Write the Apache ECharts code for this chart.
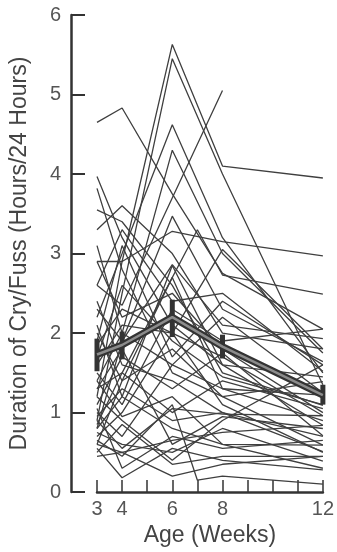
<!DOCTYPE html>
<html><head><meta charset="utf-8">
<script src="https://cdn.jsdelivr.net/npm/echarts@6/dist/echarts.min.js"></script>
<style>html,body{margin:0;padding:0;background:#fff}#c{width:337px;height:552px}</style>
</head><body><div id="c"></div>
<script>
// Tick labels
const xTickLabels = [3, 4, 6, 8, 12];
const yTickLabels = [0, 1, 2, 3, 4, 5, 6];
// Individual infants: [week, hours/24h]
const infants = [
  [[3,4.65],[4,4.83],[6,3.75],[8,2.75],[12,2.05]],
  [[3,1.2],[4,2.9],[6,5.63],[8,4.1],[12,3.95]],
  [[3,0.9],[4,2.5],[6,5.45],[8,4.0],[12,1.35]],
  [[3,2.2],[4,3.0],[6,4.62],[8,3.2],[12,1.5]],
  [[3,2.6],[4,2.35],[8,5.05]],
  [[3,1.4],[4,2.0],[6,4.3],[8,3.0],[12,1.75]],
  [[3,2.9],[4,2.9],[6,3.28],[8,3.15],[12,2.97]],
  [[3,1.3],[4,1.5],[7,3.3],[8,2.73],[12,2.49]],
  [[3,0.8],[4,1.9],[6,3.47],[8,2.3],[12,1.64]],
  [[3,2.3],[4,1.9],[6,2.86],[8,2.1],[12,1.93]],
  [[3,3.97],[4,3.2],[6,2.1],[8,1.6],[12,0.84]],
  [[3,3.82],[4,2.8],[6,1.5],[8,1.2],[12,0.59]],
  [[3,3.55],[4,3.4],[6,2.6],[8,1.5],[12,1.09]],
  [[3,3.3],[4,3.6],[6,3.0],[8,2.0],[12,1.8]],
  [[3,2.6],[4,3.3],[6,2.4],[8,2.5],[12,1.52]],
  [[3,2.0],[4,1.4],[6,1.8],[8,1.2],[12,1.39]],
  [[3,1.85],[4,2.3],[6,2.0],[8,1.7],[12,0.96]],
  [[3,1.5],[4,1.1],[6,2.3],[8,1.9],[12,2.05]],
  [[3,1.1],[4,1.7],[6,1.3],[8,1.75],[12,0.71]],
  [[3,1.0],[4,0.7],[6,1.6],[8,1.3],[12,1.22]],
  [[3,0.95],[4,1.3],[6,0.9],[8,1.0],[12,0.51]],
  [[3,0.9],[4,0.55],[6,1.05],[8,0.98],[12,0.96]],
  [[3,0.75],[4,0.6],[6,0.5],[8,0.8],[12,0.39]],
  [[3,0.6],[4,0.5],[6,0.65],[8,0.75],[12,0.84]],
  [[3,0.55],[4,0.18],[6,0.55],[8,0.4],[12,0.28]],
  [[3,0.45],[4,0.5],[6,0.2],[8,0.35],[12,0.45]],
  [[3,0.65],[4,0.45],[6,1.1],[7,0.15],[8,0.2],[12,0.1]],
  [[3,1.2],[4,0.9],[6,0.4],[8,0.9],[12,1.6]],
  [[3,0.8],[4,1.2],[6,0.8],[8,0.6],[12,0.59]],
  [[3,1.4],[4,0.95],[6,1.2],[8,0.6],[12,0.3]],
  [[3,2.4],[4,1.6],[6,1.4],[8,1.0],[12,0.7]],
  [[3,1.7],[4,2.6],[6,1.9],[8,1.45],[12,1.1]],
  [[3,0.7],[4,1.0],[6,2.0],[8,1.1],[12,0.5]],
  [[3,2.9],[4,2.2],[6,2.5],[8,1.8],[12,1.0]],
  [[3,3.1],[4,2.0],[6,1.6],[8,2.2],[12,1.25]],
  [[3,1.6],[4,2.1],[6,2.0],[8,3.05],[12,1.8]],
  [[3,0.5],[4,0.85],[6,0.35],[8,0.45],[12,0.45]],
  [[3,1.05],[4,0.3],[6,0.7],[8,0.55],[12,0.65]],
  [[3,0.85],[4,1.5],[6,1.0],[8,1.4],[12,1.05]],
  [[3,1.3],[4,1.8],[6,0.6],[8,0.95],[12,0.8]],
  [[3,2.1],[4,1.2],[6,2.85],[8,1.6],[12,1.45]],
  [[3,1.9],[4,3.1],[6,1.7],[8,2.4],[12,1.6]],
  [[3,0.6],[4,1.4],[6,2.7],[8,1.3],[12,0.9]]
];
// Group mean with error bars
const meanWeeks = [3, 4, 6, 8, 12];
const meanValues = [1.73, 1.85, 2.2, 1.83, 1.22];
const meanLow = [1.52, 1.67, 1.95, 1.68, 1.1];
const meanHigh = [1.93, 2.02, 2.42, 1.98, 1.35];

const chart = echarts.init(document.getElementById('c'), null, {renderer: 'canvas'});
const series = infants.map(d => ({
  type: 'line', data: d, symbol: 'none', silent: true,
  lineStyle: {color: '#3f3f3f', width: 1.3}
}));
const meanData = meanWeeks.map((w, i) => [w, meanValues[i]]);
series.push({
  type: 'custom', silent: true, z: 5,
  data: meanWeeks.map((w, i) => [w, meanLow[i], meanHigh[i]]),
  renderItem: (params, api) => {
    const a = api.coord([api.value(0), api.value(1)]);
    const b = api.coord([api.value(0), api.value(2)]);
    return {type: 'line', shape: {x1: a[0], y1: a[1], x2: b[0], y2: b[1]},
      style: {stroke: '#333', lineWidth: 5}};
  }
});
series.push({type: 'line', data: meanData, symbol: 'none', z: 6, silent: true,
  lineStyle: {color: '#333', width: 7}});
series.push({type: 'line', data: meanData, symbol: 'none', z: 7, silent: true,
  lineStyle: {color: '#8c8c8c', width: 2.5}});

chart.setOption({
  animation: false,
  backgroundColor: '#ffffff',
  grid: {left: 97, right: 6, top: 15, bottom: 58},
  xAxis: {
    type: 'value', min: 3, max: 12, interval: 1,
    name: 'Age (Weeks)', nameLocation: 'middle', nameGap: 31,
    nameTextStyle: {fontFamily: 'Liberation Sans', fontSize: 23, color: '#444'},
    axisLine: {lineStyle: {color: '#333', width: 2.5}},
    axisTick: {inside: true, length: 12, lineStyle: {color: '#333', width: 1.5}},
    axisLabel: {margin: 7, fontFamily: 'Liberation Sans', fontSize: 20, color: '#555',
      showMinLabel: true, showMaxLabel: true,
      formatter: v => xTickLabels.indexOf(v) >= 0 ? String(v) : ''},
    splitLine: {show: false}
  },
  yAxis: {
    type: 'value', min: 0, max: 6, interval: 1, offset: 26,
    name: 'Duration of Cry/Fuss (Hours/24 Hours)', nameLocation: 'middle', nameGap: 40,
    nameTextStyle: {fontFamily: 'Liberation Sans', fontSize: 23, color: '#444'},
    axisLine: {show: true, lineStyle: {color: '#333', width: 2.5}},
    axisTick: {show: true, inside: true, length: 14, lineStyle: {color: '#333', width: 2}},
    axisLabel: {margin: 10, fontFamily: 'Liberation Sans', fontSize: 20, color: '#555',
      formatter: v => yTickLabels.indexOf(v) >= 0 ? String(v) : ''},
    splitLine: {show: false}
  },
  series: series
});
</script></body></html>
